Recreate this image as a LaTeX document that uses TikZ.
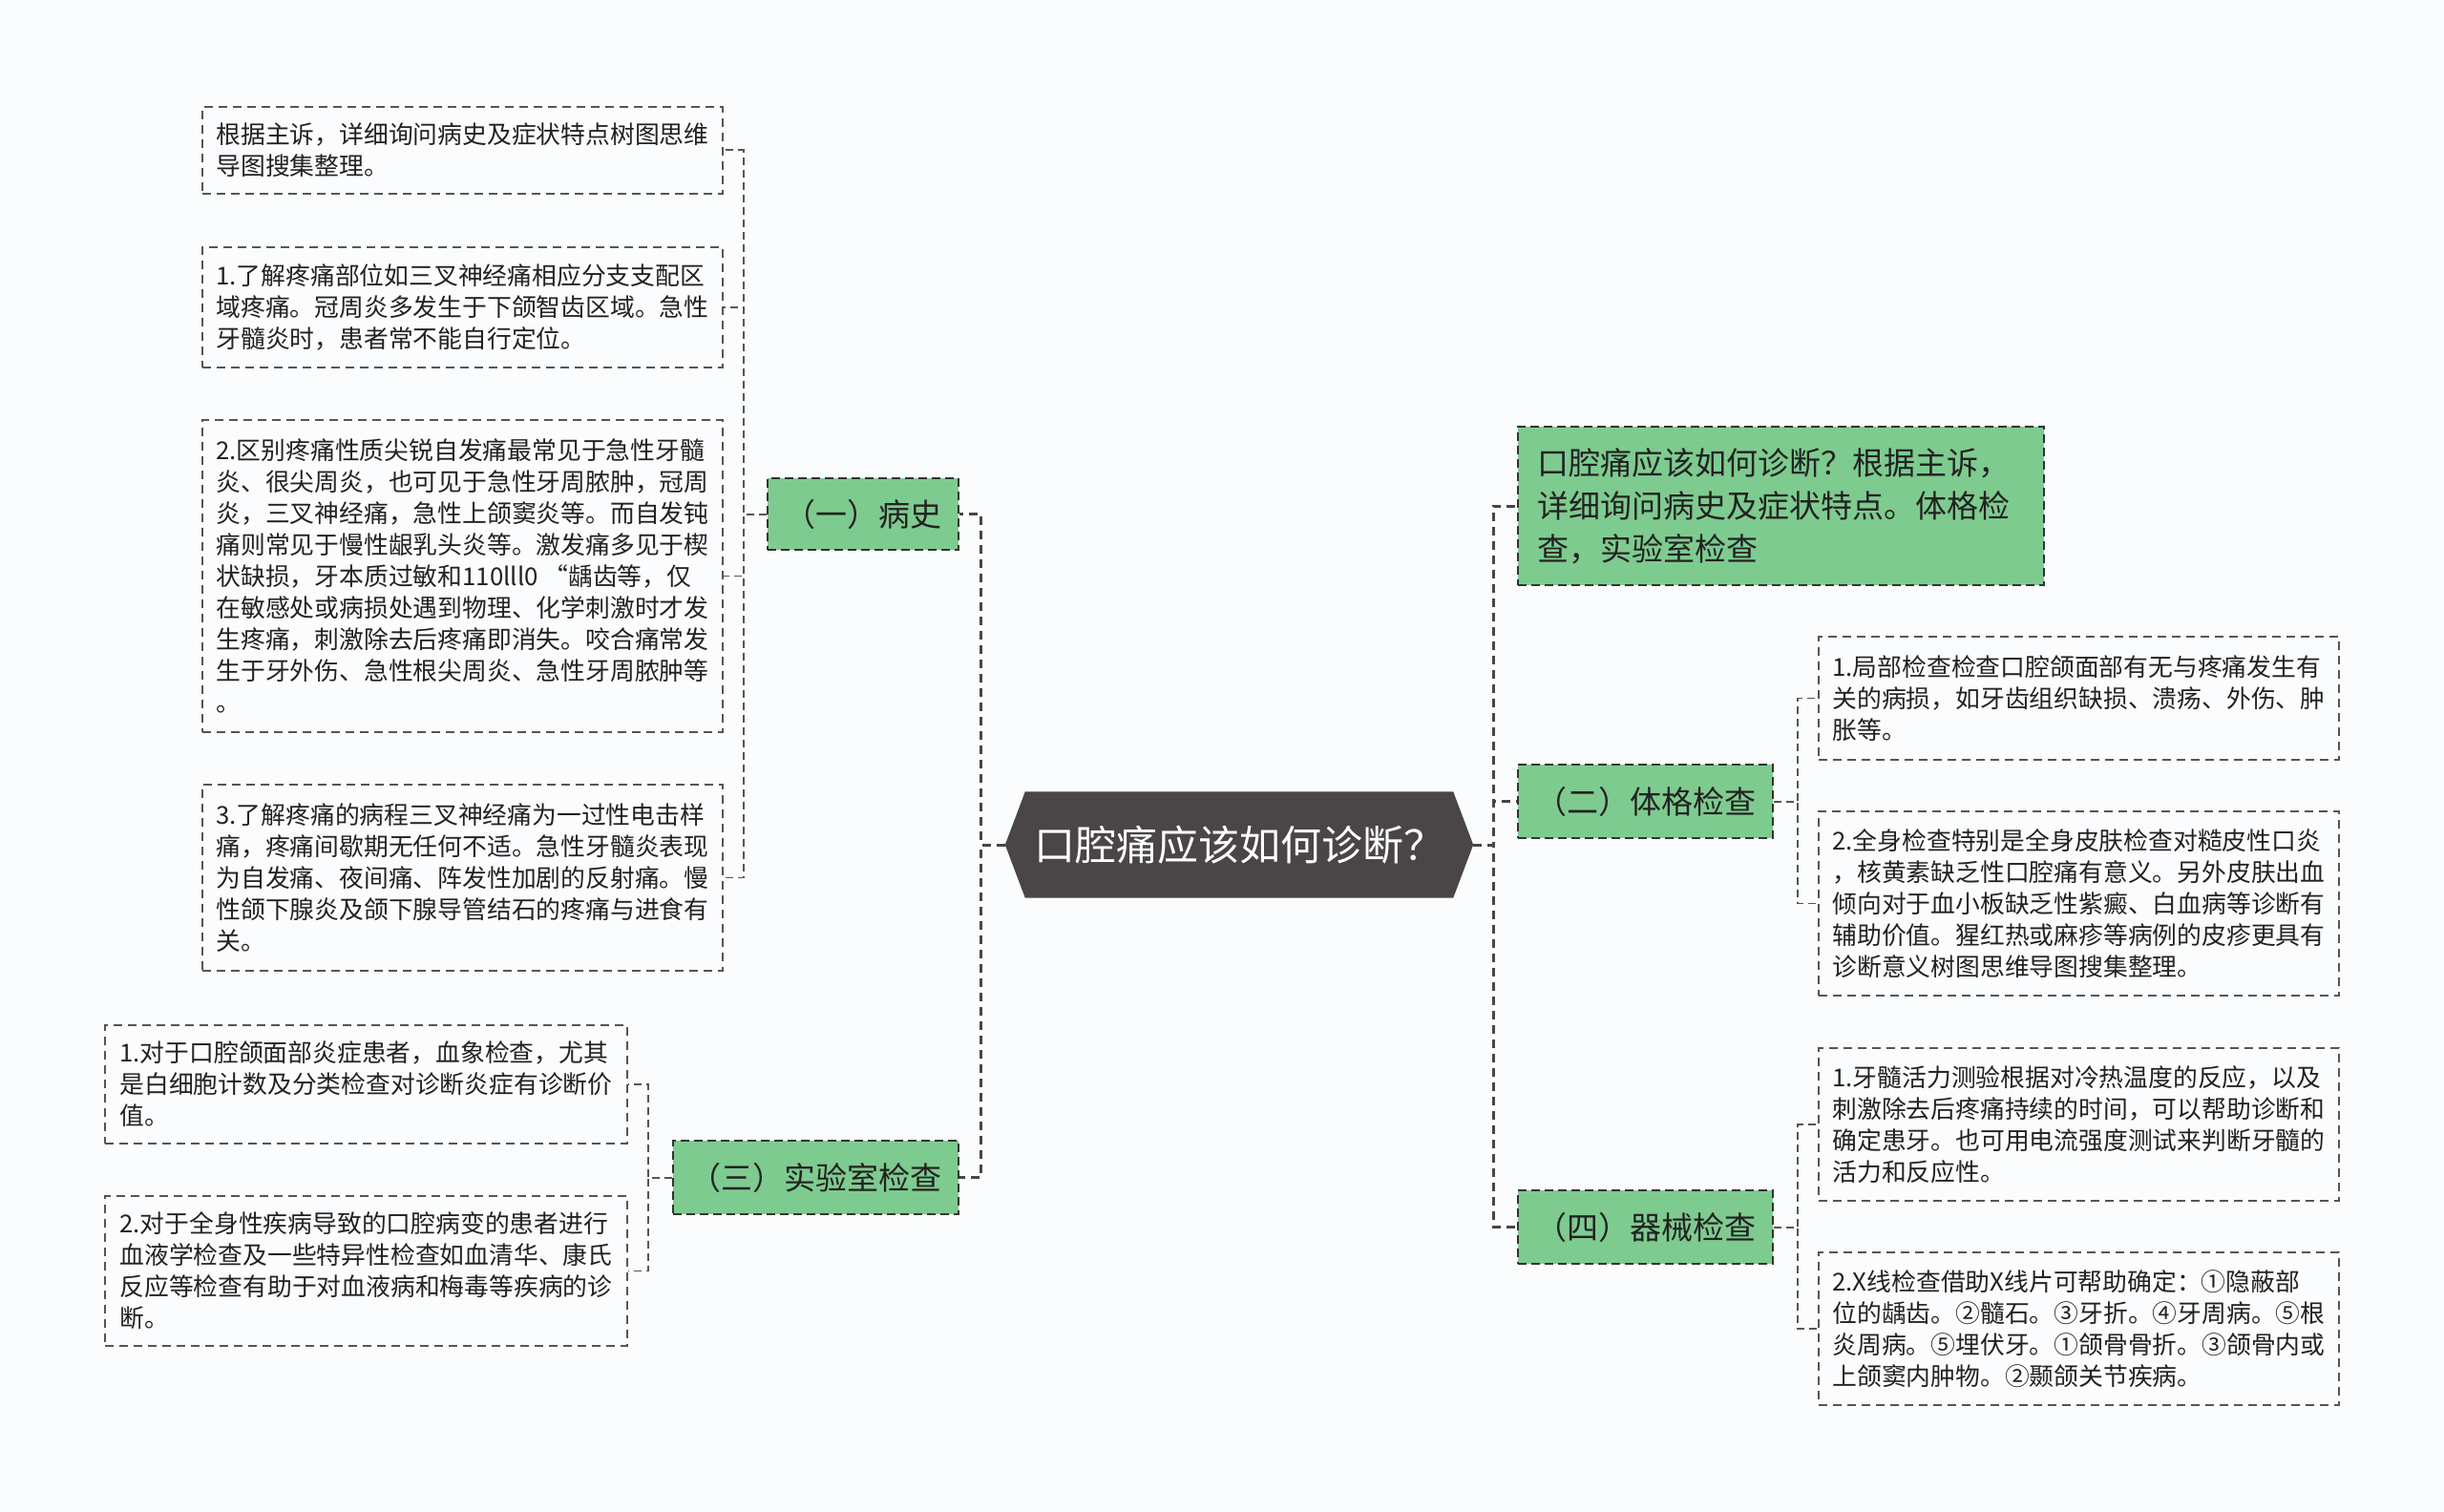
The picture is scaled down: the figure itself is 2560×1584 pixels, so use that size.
\documentclass[tikz,border=0pt]{standalone}
\usepackage{fontspec}
\newfontfamily\cjk{Noto Sans CJK SC}
\usetikzlibrary{backgrounds}
\definecolor{bgc}{HTML}{FAFCFE}
\definecolor{hexc}{HTML}{4A4546}
\definecolor{grn}{HTML}{7ECB8F}
\definecolor{txt}{HTML}{222222}
\definecolor{ln}{HTML}{555555}
\begin{document}
\begin{tikzpicture}[x=1pt,y=-1pt,
  leaf/.style={draw=ln, line width=1.8, dash pattern=on 9 off 6, font=\cjk\fontsize{25.8}{33}\selectfont, text=txt, align=left, inner sep=0, minimum width=545, anchor=north west},
  grnbox/.style={draw=black!80, fill=grn, line width=2.2, dash pattern=on 9 off 5, font=\cjk\fontsize{33}{45}\selectfont, text=txt, inner sep=0, anchor=north west},
  cnode/.style={font=\cjk\fontsize{43}{50}\selectfont, text=white, inner sep=0, minimum width=490, minimum height=111},
  mainln/.style={draw=hexc, line width=3, dash pattern=on 9 off 6},
  leafln/.style={draw=ln, line width=1.8, dash pattern=on 8 off 5}]
\begin{scope}[on background layer]
\fill[bgc] (0,0) rectangle (2560,1584);
\end{scope}
\useasboundingbox (0,0) rectangle (2560,1584);

% center
\node[cnode] (c) at (1298,885) {口腔痛应该如何诊断？};
\begin{scope}[on background layer]
\fill[hexc] (c.west) -- ([xshift=21]c.north west) -- ([xshift=-21]c.north east) -- (c.east) -- ([xshift=-21]c.south east) -- ([xshift=21]c.south west) -- cycle;
\end{scope}

% branches
\node[grnbox, minimum width=200, minimum height=75] (b1) at (803,500) {（一）病史};
\node[grnbox, minimum width=299, minimum height=77] (b3) at (704,1194) {（三）实验室检查};
\node[grnbox, minimum width=551, minimum height=166, align=left, text width=511] (g) at (1589,446) {口腔痛应该如何诊断？根据主诉，\\详细询问病史及症状特点。体格检\\查，实验室检查};
\node[grnbox, minimum width=267, minimum height=77] (b2) at (1589,800) {（二）体格检查};
\node[grnbox, minimum width=267, minimum height=77] (b4) at (1589,1246) {（四）器械检查};

% leaves left
\node[leaf, minimum height=91] (l1) at (211,111) {根据主诉，详细询问病史及症状特点树图思维\\导图搜集整理。};
\node[leaf, minimum height=126] (l2) at (211,258) {1.了解疼痛部位如三叉神经痛相应分支支配区\\域疼痛。冠周炎多发生于下颌智齿区域。急性\\牙髓炎时，患者常不能自行定位。};
\node[leaf, minimum height=327] (l3) at (211,439) {2.区别疼痛性质尖锐自发痛最常见于急性牙髓\\炎、很尖周炎，也可见于急性牙周脓肿，冠周\\炎，三叉神经痛，急性上颌窦炎等。而自发钝\\痛则常见于慢性龈乳头炎等。激发痛多见于楔\\状缺损，牙本质过敏和110lll0 “龋齿等，仅\\在敏感处或病损处遇到物理、化学刺激时才发\\生疼痛，刺激除去后疼痛即消失。咬合痛常发\\生于牙外伤、急性根尖周炎、急性牙周脓肿等\\。};
\node[leaf, minimum height=195] (l4) at (211,821) {3.了解疼痛的病程三叉神经痛为一过性电击样\\痛，疼痛间歇期无任何不适。急性牙髓炎表现\\为自发痛、夜间痛、阵发性加剧的反射痛。慢\\性颌下腺炎及颌下腺导管结石的疼痛与进食有\\关。};
\node[leaf, minimum width=547, minimum height=124] (l5) at (109,1073) {1.对于口腔颌面部炎症患者，血象检查，尤其\\是白细胞计数及分类检查对诊断炎症有诊断价\\值。};
\node[leaf, minimum width=547, minimum height=157] (l6) at (109,1252) {2.对于全身性疾病导致的口腔病变的患者进行\\血液学检查及一些特异性检查如血清华、康氏\\反应等检查有助于对血液病和梅毒等疾病的诊\\断。};

% leaves right
\node[leaf, minimum height=129] (r1) at (1904,666) {1.局部检查检查口腔颌面部有无与疼痛发生有\\关的病损，如牙齿组织缺损、溃疡、外伤、肿\\胀等。};
\node[leaf, minimum height=193] (r2) at (1904,849) {2.全身检查特别是全身皮肤检查对糙皮性口炎\\，核黄素缺乏性口腔痛有意义。另外皮肤出血\\倾向对于血小板缺乏性紫癜、白血病等诊断有\\辅助价值。猩红热或麻疹等病例的皮疹更具有\\诊断意义树图思维导图搜集整理。};
\node[leaf, minimum height=160] (r3) at (1904,1097) {1.牙髓活力测验根据对冷热温度的反应，以及\\刺激除去后疼痛持续的时间，可以帮助诊断和\\确定患牙。也可用电流强度测试来判断牙髓的\\活力和反应性。};
\node[leaf, minimum height=160] (r4) at (1904,1311) {2.X线检查借助X线片可帮助确定：①隐蔽部\\位的龋齿。②髓石。③牙折。④牙周病。⑤根\\炎周病。⑤埋伏牙。①颌骨骨折。③颌骨内或\\上颌窦内肿物。②颞颌关节疾病。};

% main connectors
\draw[mainln] (c.west) -- ++(-25,0) |- (b1.east);
\draw[mainln] (c.west) -- ++(-25,0) |- (b3.east);
\draw[mainln] (c.east) -- ++(21,0) |- (g.west);
\draw[mainln] (c.east) -- ++(21,0) |- (b2.west);
\draw[mainln] (c.east) -- ++(21,0) |- (b4.west);

% leaf connectors
\foreach \l in {l1,l2,l3,l4} \draw[leafln] (b1.west) -- ++(-24,0) |- (\l.east);
\foreach \l in {l5,l6} \draw[leafln] (b3.west) -- ++(-25,0) |- (\l.east);
\foreach \l in {r1,r2} \draw[leafln] (b2.east) -- ++(25,0) |- (\l.west);
\foreach \l in {r3,r4} \draw[leafln] (b4.east) -- ++(25,0) |- (\l.west);
\end{tikzpicture}
\end{document}
